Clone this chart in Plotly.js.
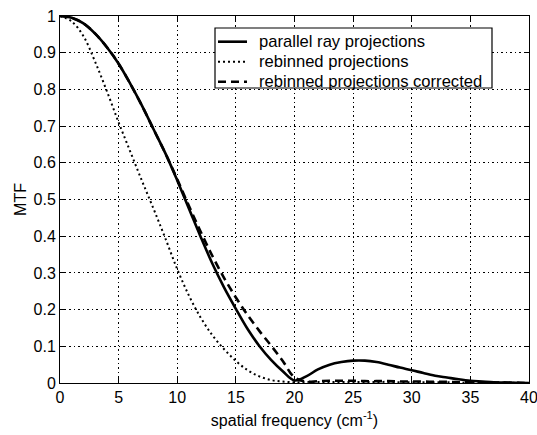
<!DOCTYPE html>
<html>
<head>
<meta charset="utf-8">
<script src="https://cdn.plot.ly/plotly-3.0.1.min.js"></script>
<style>html,body{margin:0;padding:0;background:#fff;}#chart{width:537px;height:435px;}</style>
</head>
<body>
<div id="chart"></div>
<script>
const freq = [0,1,2,3,4,5,6,7,8,9,10,11,12,13,14,15,16,17,18,19,20,21,22,23,24,25,26,27,28,29,30,31,32,33,34,35,36,37,38,39,40];
const parallelRay = [1.0,0.995,0.98,0.952,0.915,0.87,0.815,0.755,0.69,0.625,0.552,0.475,0.398,0.325,0.26,0.202,0.147,0.101,0.063,0.032,0.007,0.018,0.037,0.05,0.057,0.061,0.061,0.057,0.05,0.042,0.035,0.027,0.02,0.015,0.01,0.006,0.004,0.002,0.001,0.0005,0];
const rebinned = [1.0,0.985,0.945,0.875,0.795,0.71,0.63,0.55,0.473,0.393,0.31,0.238,0.178,0.13,0.092,0.06,0.035,0.018,0.008,0.004,0.002,0.003,0.003,0.003,0.003,0.003,0.003,0.003,0.003,0.002,0.002,0.002,0.002,0.002,0.001,0.001,0.001,0.001,0.001,0.0005,0];
const rebinnedCorrected = [1.0,0.995,0.98,0.952,0.915,0.87,0.815,0.755,0.69,0.625,0.555,0.482,0.412,0.346,0.286,0.233,0.185,0.142,0.102,0.06,0.015,0.004,0.005,0.006,0.006,0.006,0.005,0.005,0.005,0.004,0.004,0.004,0.003,0.003,0.002,0.002,0.002,0.001,0.001,0.0005,0];
const seriesNames = ['parallel ray projections','rebinned projections','rebinned projections corrected'];
const xTicks = [0,5,10,15,20,25,30,35,40];
const yTicks = [0,0.1,0.2,0.3,0.4,0.5,0.6,0.7,0.8,0.9,1];
const yTickText = ['0','0.1','0.2','0.3','0.4','0.5','0.6','0.7','0.8','0.9','1'];

const lineStyles = [
  {color: '#000', width: 2.6, dash: 'solid', shape: 'spline'},
  {color: '#000', width: 2, dash: '2px,3px', shape: 'spline'},
  {color: '#000', width: 2.6, dash: '8px,5px', shape: 'spline'}
];
const seriesData = [parallelRay, rebinned, rebinnedCorrected];

const traces = seriesData.map((ys, i) => ({
  x: freq, y: ys, name: seriesNames[i], mode: 'lines', line: lineStyles[i], showlegend: false
}));

const font = 'Liberation Sans, Arial, Helvetica, sans-serif';
const axisCommon = {
  showline: true, linecolor: '#000', linewidth: 1, mirror: 'ticks',
  ticks: 'inside', ticklen: 5, tickcolor: '#000',
  showgrid: true, gridcolor: '#000', griddash: '1.5px,3px', gridwidth: 1,
  zeroline: false, ticklabeloverflow: 'allow',
  tickfont: {family: font, size: 16, color: '#000'}
};

// legend box (drawn in paper coordinates)
const legBox = {x0: 0.3305, x1: 0.9211, y0: 0.8038, y1: 0.9673};
const legRows = [0.930, 0.8755, 0.821];
const legSampleX = [0.3369, 0.3987];
const legTextX = 0.42;

const shapes = [{type: 'rect', xref: 'paper', yref: 'paper', x0: legBox.x0, x1: legBox.x1, y0: legBox.y0, y1: legBox.y1,
  line: {color: '#000', width: 1.2}, fillcolor: '#fff', layer: 'above'}];
const annotations = [];
seriesNames.forEach((nm, i) => {
  shapes.push({type: 'line', xref: 'paper', yref: 'paper', x0: legSampleX[0], x1: legSampleX[1], y0: legRows[i], y1: legRows[i],
    line: {color: '#000', width: lineStyles[i].width, dash: lineStyles[i].dash}, layer: 'above'});
  annotations.push({xref: 'paper', yref: 'paper', x: legTextX, y: legRows[i], xanchor: 'left', yanchor: 'middle',
    text: nm, showarrow: false, font: {family: font, size: 16.6, color: '#000'}});
});

const layout = {
  width: 537, height: 435,
  margin: {l: 60, r: 8, t: 16, b: 52},
  paper_bgcolor: '#fff', plot_bgcolor: '#fff',
  showlegend: false,
  shapes: shapes,
  annotations: annotations,
  xaxis: Object.assign({}, axisCommon, {
    range: [0, 40], tickvals: xTicks, ticktext: xTicks.map(String),
    title: {text: 'spatial frequency (cm<sup>-1</sup>)', font: {family: font, size: 16, color: '#000'}, standoff: 9}
  }),
  yaxis: Object.assign({}, axisCommon, {
    range: [0, 1], tickvals: yTicks, ticktext: yTickText,
    title: {text: 'MTF', font: {family: font, size: 16, color: '#000'}, standoff: 2}
  })
};

Plotly.newPlot('chart', traces, layout, {displayModeBar: false, staticPlot: true});
</script>
</body>
</html>
